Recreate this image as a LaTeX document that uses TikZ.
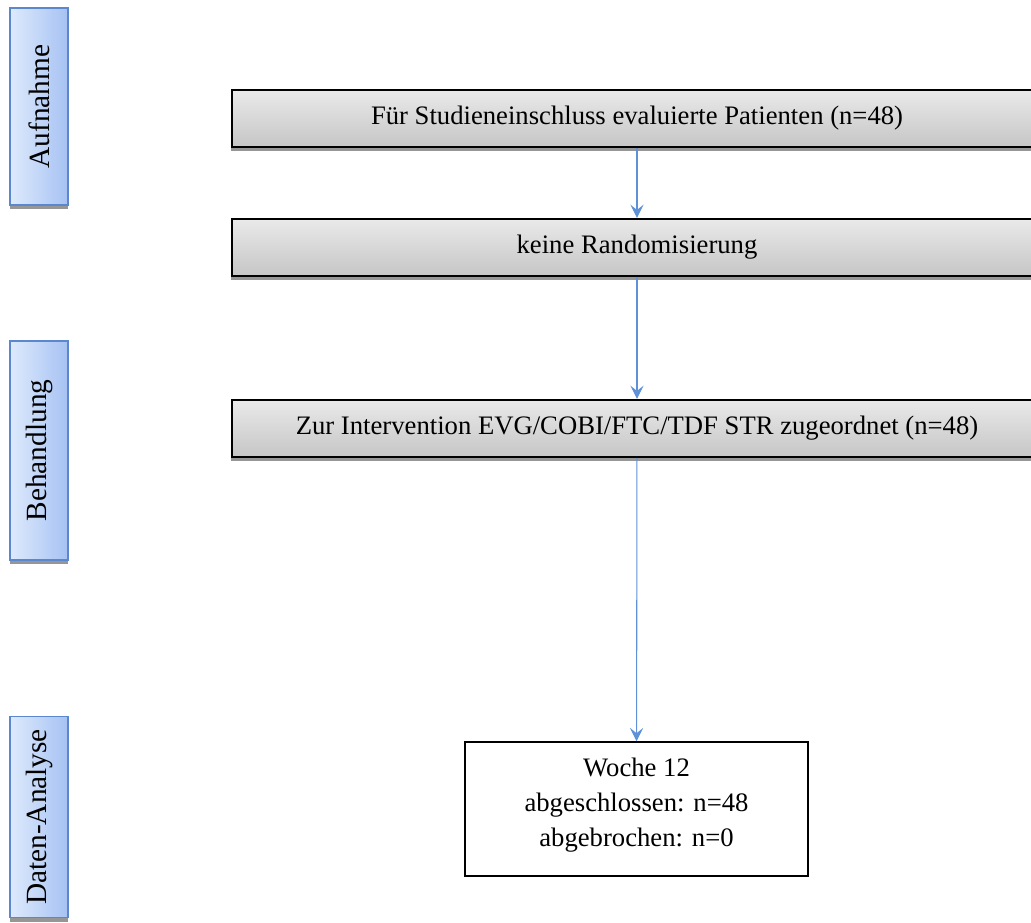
\documentclass[tikz,border=0pt]{standalone}
\usepackage{fontspec}
\setmainfont{Liberation Serif}
\usepackage{tikz}
\usetikzlibrary{arrows.meta,shadows}
\definecolor{phaseblue}{RGB}{90,135,205}
\definecolor{phaselight}{RGB}{222,234,252}
\definecolor{phasedark}{RGB}{166,194,243}
\definecolor{flowblue}{RGB}{95,145,215}
\definecolor{shadowgray}{RGB}{150,150,150}
\tikzset{
  phase-node/.style={draw=phaseblue, line width=1.2pt, left color=phaselight,
    right color=phasedark, minimum width=43.5pt, inner sep=0pt,
    font=\fontsize{22}{26}\selectfont,
    drop shadow={shadow xshift=0pt, shadow yshift=-3pt, opacity=1, fill=shadowgray}},
  stage-node/.style={draw=black, line width=1.6pt, top color=gray!17,
    bottom color=gray!45, minimum width=607.5pt, minimum height=42.75pt,
    font=\fontsize{20}{24}\selectfont, inner sep=0pt,
    drop shadow={shadow xshift=-1pt, shadow yshift=-3pt, opacity=1, fill=shadowgray}},
  result-node/.style={draw=black, line width=1.2pt, fill=white,
    minimum width=257pt, minimum height=100.5pt, inner ysep=0pt,
    text height=78pt, text depth=22.5pt, align=center,
    font=\fontsize{20}{26.25}\selectfont},
  flow-arrow/.style={-{Stealth[length=10pt, width=10pt, inset=4pt]}, line width=0.8pt, draw=flowblue}
}
\begin{document}
\begin{tikzpicture}[x=0.75pt, y=-0.75pt]
\useasboundingbox (0,0) rectangle (1031,922);
\clip (0,0) rectangle (1031,922);
% phases on the left
\node[phase-node, minimum height=148pt] (aufnahme) at (39,106.5) {\rotatebox{90}{Aufnahme}};
\node[phase-node, minimum height=164pt] (behandlung) at (39,450.5) {\rotatebox{90}{Behandlung}};
\node[phase-node, minimum height=151pt] (analyse) at (39,817) {\rotatebox{90}{Daten-Analyse}};
% flow
\node[stage-node] (evaluiert) at (637,118.5) {Für Studieneinschluss evaluierte Patienten (n=48)};
\node[stage-node] (randomisierung) at (637,247.5) {keine Randomisierung};
\node[stage-node] (intervention) at (637,428.5) {Zur Intervention EVG/COBI/FTC/TDF STR zugeordnet (n=48)};
\node[result-node] (woche) at (636.5,809) {Woche 12\\abgeschlossen: n=48\\abgebrochen: n=0};
\draw[flow-arrow] (evaluiert) -- (randomisierung);
\draw[flow-arrow] (randomisierung) -- (intervention);
\draw[flow-arrow] (intervention) -- (woche);
\end{tikzpicture}
\end{document}
